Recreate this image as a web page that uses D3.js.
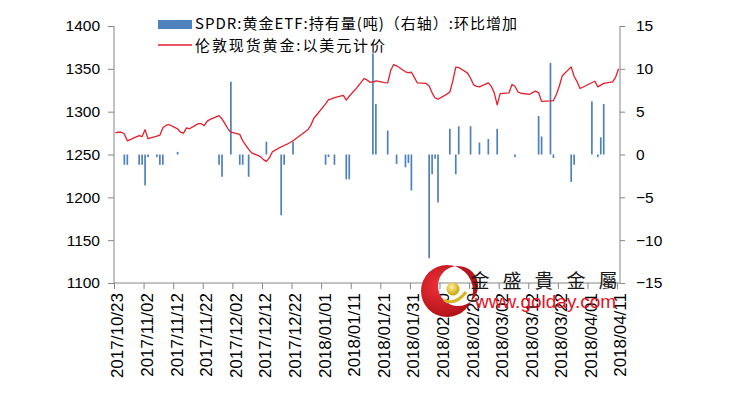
<!DOCTYPE html>
<html><head><meta charset="utf-8">
<script src="https://cdn.jsdelivr.net/npm/d3@7"></script>
<style>
html,body{margin:0;padding:0;background:#fff;}
svg{display:block;}
</style></head>
<body>
<svg id="chart" width="746" height="393"></svg>
<script>
// ---------------- data ----------------
const goldDates = ["2017/10/23","2017/10/24","2017/10/25","2017/10/26","2017/10/27","2017/10/30","2017/10/31","2017/11/01","2017/11/02","2017/11/03",
"2017/11/06","2017/11/07","2017/11/08","2017/11/09","2017/11/10","2017/11/13","2017/11/14","2017/11/15","2017/11/16","2017/11/17",
"2017/11/20","2017/11/21","2017/11/22","2017/11/23","2017/11/24","2017/11/27","2017/11/28","2017/11/29","2017/11/30","2017/12/01",
"2017/12/04","2017/12/05","2017/12/06","2017/12/07","2017/12/08","2017/12/11","2017/12/12","2017/12/13","2017/12/14","2017/12/15",
"2017/12/18","2017/12/19","2017/12/20","2017/12/21","2017/12/22","2017/12/27","2017/12/28","2017/12/29","2018/01/02","2018/01/03",
"2018/01/04","2018/01/05","2018/01/08","2018/01/09","2018/01/10","2018/01/11","2018/01/12","2018/01/15","2018/01/16","2018/01/17",
"2018/01/18","2018/01/19","2018/01/22","2018/01/23","2018/01/24","2018/01/25","2018/01/26","2018/01/29","2018/01/30","2018/01/31",
"2018/02/01","2018/02/02","2018/02/05","2018/02/06","2018/02/07","2018/02/08","2018/02/09","2018/02/12","2018/02/13","2018/02/14",
"2018/02/15","2018/02/16","2018/02/19","2018/02/20","2018/02/21","2018/02/22","2018/02/23","2018/02/26","2018/02/27","2018/02/28",
"2018/03/01","2018/03/02","2018/03/05","2018/03/06","2018/03/07","2018/03/08","2018/03/09","2018/03/12","2018/03/13","2018/03/14",
"2018/03/15","2018/03/16","2018/03/19","2018/03/20","2018/03/21","2018/03/22","2018/03/23","2018/03/26","2018/03/27","2018/03/28",
"2018/03/29","2018/04/03","2018/04/04","2018/04/05","2018/04/06","2018/04/09","2018/04/10","2018/04/11"];
const goldPrices = [1275.4,1276,1276,1274,1266,1270.5,1272,1271,1279,1268.4,
1271.5,1272.5,1281,1284,1285,1280,1276,1275,1281,1280,
1286,1286,1283.6,1289,1291,1295.4,1291.5,1286,1280,1276,
1273.5,1266,1261,1256,1252,1247.5,1244,1242,1246,1253,
1259,1260.5,1262,1264,1266,1279,1284,1292,1309,1314,
1315,1316.5,1319,1313.5,1318,1322,1325.5,1338.5,1337,1334.5,
1334.5,1336,1334,1333.6,1348,1355,1353.5,1346.5,1345.5,1346,
1340,1333.5,1333,1330,1322,1316,1314.5,1320.5,1323,1336,
1352,1351.5,1345,1339,1331.5,1329.5,1329,1333.6,1329.5,1322,
1308,1321,1322,1331.7,1329.7,1323,1321.5,1320.3,1322.5,1324,
1322,1312,1312.5,1313,1320,1330,1342,1352.3,1341,1335,
1327,1335.5,1329,1331,1333,1334.7,1340,1350];

const spdrDates = ["2017/10/26","2017/10/27","2017/10/31","2017/11/01","2017/11/02","2017/11/03","2017/11/06","2017/11/07","2017/11/08","2017/11/13",
"2017/11/27","2017/11/28","2017/12/01","2017/12/04","2017/12/05","2017/12/07","2017/12/13","2017/12/18","2017/12/19","2017/12/22",
"2018/01/02","2018/01/03","2018/01/05","2018/01/09","2018/01/10","2018/01/18","2018/01/19","2018/01/23","2018/01/26","2018/01/29",
"2018/01/30","2018/01/31","2018/02/06","2018/02/07","2018/02/08","2018/02/09","2018/02/13","2018/02/15","2018/02/16","2018/02/20",
"2018/02/23","2018/02/26","2018/03/01","2018/03/07","2018/03/15","2018/03/16","2018/03/19","2018/03/20","2018/03/26","2018/03/27",
"2018/04/02","2018/04/04","2018/04/05","2018/04/06"];
const spdrChanges = [-1.2,-1.2,-1.2,-1.2,-3.6,-0.3,-0.3,-1.2,-1.2,0.3,
-1.2,-2.6,8.5,-1.2,-1.2,-2.6,1.5,-7.1,-1.2,1.5,
-1.2,-0.3,-1.2,-2.9,-2.9,11.8,5.9,2.8,-1.1,-1.5,
-1.0,-4.2,-12.1,-2.3,-0.5,-5.6,3.0,-2.3,3.3,3.3,
1.4,1.8,3.0,-0.3,4.5,2.1,10.7,-0.4,-3.2,-1.2,
6.2,-0.3,2.0,5.9];

const xTickLabels = ["2017/10/23","2017/11/02","2017/11/12","2017/11/22","2017/12/02","2017/12/12","2017/12/22","2018/01/01","2018/01/11",
"2018/01/21","2018/01/31","2018/02/10","2018/02/20","2018/03/02","2018/03/12","2018/03/22","2018/04/01","2018/04/11"];
const leftTicks = [1100,1150,1200,1250,1300,1350,1400];
const rightTicks = [-15,-10,-5,0,5,10,15];
const xDomain = ["2017/10/23","2018/04/12"];
const seriesNames = ["SPDR:黄金ETF:持有量(吨)（右轴）:环比增加","伦敦现货黄金:以美元计价"];
const watermarkChars = ["金","盛","貴","金","屬"];
const watermarkUrl = "www.golday.com";

// ---------------- drawing ----------------
const parse = d3.utcParse("%Y/%m/%d");
const svg = d3.select("#chart");
const L = 114, R = 620, T = 26, B = 283;
const numFont = "'Liberation Sans', Arial, sans-serif";
const cjkFont = "'Noto Sans CJK SC', 'Liberation Sans', sans-serif";
const axisColor = "#868686";
const barColor = "#4F81BD";
const lineColor = "#E41E2B";

const x = d3.scaleUtc().domain(xDomain.map(parse)).range([L, R]);
const halfDay = (x(parse("2017/10/24")) - x(parse("2017/10/23"))) / 2;
const yL = d3.scaleLinear().domain([1100, 1400]).range([B, T]);
const yR = d3.scaleLinear().domain([-15, 15]).range([B, T]);

// bars
const bars = spdrDates.map((d, i) => ({date: parse(d), v: spdrChanges[i]}));
svg.append("g").selectAll("rect").data(bars).join("rect")
  .attr("x", d => x(d.date) + halfDay - 0.85)
  .attr("width", 1.7)
  .attr("y", d => Math.min(yR(d.v), yR(0)))
  .attr("height", d => Math.abs(yR(d.v) - yR(0)))
  .attr("fill", barColor);

// line
const pts = goldDates.map((d, i) => ({date: parse(d), v: goldPrices[i]}));
svg.append("path").datum(pts)
  .attr("fill", "none").attr("stroke", lineColor).attr("stroke-width", 1.3)
  .attr("stroke-linejoin", "round")
  .attr("d", d3.line().x(d => x(d.date) + halfDay).y(d => yL(d.v)));

// axes
const leftAxis = d3.axisLeft(yL).tickValues(leftTicks).tickSize(6).tickPadding(8).tickFormat(d3.format("d"));
const gl = svg.append("g").attr("transform", `translate(${L},0)`).call(leftAxis);
const rightAxis = d3.axisRight(yR).tickValues(rightTicks).tickSize(5).tickPadding(11).tickFormat(d3.format("d"));
const gr = svg.append("g").attr("transform", `translate(${R},0)`).call(rightAxis);
const xAxis = d3.axisBottom(x).tickValues(xTickLabels.map(parse)).tickSize(6).tickFormat(d3.utcFormat("%Y/%m/%d"));
const gx = svg.append("g").attr("transform", `translate(0,${B})`).call(xAxis);

[gl, gr, gx].forEach(g => {
  g.selectAll("path.domain").attr("stroke", axisColor).attr("stroke-width", 1);
  g.selectAll(".tick line").attr("stroke", axisColor);
  g.selectAll("text").attr("fill", "#000").attr("font-family", numFont).attr("font-size", 15.5);
});
gl.select("path.domain").attr("d", `M0,${T}V${B}`);
gr.select("path.domain").attr("d", `M0,${T}V${B}`);
gx.select("path.domain").attr("d", `M${L},0H${R}`);
gx.selectAll(".tick text")
  .attr("font-size", 17)
  .attr("text-anchor", "end")
  .attr("transform", "translate(3,10) rotate(-90)")
  .attr("x", 0).attr("y", 0).attr("dy", "0.35em");

// legend
const lg = svg.append("g");
lg.append("rect").attr("x", 158).attr("y", 20).attr("width", 34).attr("height", 9).attr("fill", barColor);
lg.append("line").attr("x1", 158).attr("x2", 192).attr("y1", 45).attr("y2", 45).attr("stroke", lineColor).attr("stroke-width", 1.3);
lg.append("text").attr("x", 195).attr("y", 23.5).attr("dy", "0.35em").attr("font-family", cjkFont).attr("font-size", 15)
  .attr("textLength", 322).attr("lengthAdjust", "spacing").text(seriesNames[0]);
lg.append("text").attr("x", 195).attr("y", 45.5).attr("dy", "0.35em").attr("font-family", cjkFont).attr("font-size", 15)
  .attr("textLength", 190).attr("lengthAdjust", "spacing").text(seriesNames[1]);

// watermark logo
const wm = svg.append("g");
const defs = svg.append("defs");
const grad = defs.append("radialGradient").attr("id", "redg").attr("cx", "35%").attr("cy", "40%").attr("r", "70%");
grad.append("stop").attr("offset", "0%").attr("stop-color", "#f2323a");
grad.append("stop").attr("offset", "100%").attr("stop-color", "#a80d14");
const gold = defs.append("radialGradient").attr("id", "goldg").attr("cx", "40%").attr("cy", "35%").attr("r", "65%");
gold.append("stop").attr("offset", "0%").attr("stop-color", "#fff2a0");
gold.append("stop").attr("offset", "100%").attr("stop-color", "#c9a000");
const cx0 = 447, cy0 = 291, r0 = 26, cx1 = 458, cy1 = 286, r1 = 20;
wm.append("path")
  .attr("fill-rule", "evenodd").attr("fill", "url(#redg)")
  .attr("d", `M${cx0 + r0},${cy0}A${r0},${r0} 0 1,0 ${cx0 - r0},${cy0}A${r0},${r0} 0 1,0 ${cx0 + r0},${cy0}Z` +
             `M${cx1 + r1},${cy1}A${r1},${r1} 0 1,0 ${cx1 - r1},${cy1}A${r1},${r1} 0 1,0 ${cx1 + r1},${cy1}Z`);
wm.append("circle").attr("cx", 453).attr("cy", 289).attr("r", 6.5).attr("fill", "url(#goldg)");
wm.append("path").attr("fill", "none").attr("stroke", "#d8b420").attr("stroke-width", 3)
  .attr("d", "M444,300 Q455,306 466,292");
wm.selectAll("text.wc").data(watermarkChars).join("text").attr("class", "wc")
  .attr("x", (d, i) => 480 + i * 32).attr("y", 281).attr("dy", "0.35em")
  .attr("text-anchor", "middle").attr("font-family", cjkFont).attr("font-size", 19)
  .attr("fill", "#1a1a1a").text(d => d);
wm.append("text").attr("x", 475).attr("y", 308).attr("font-family", numFont).attr("font-size", 19)
  .attr("fill", "#e8101c").text(watermarkUrl);
</script>
</body></html>
